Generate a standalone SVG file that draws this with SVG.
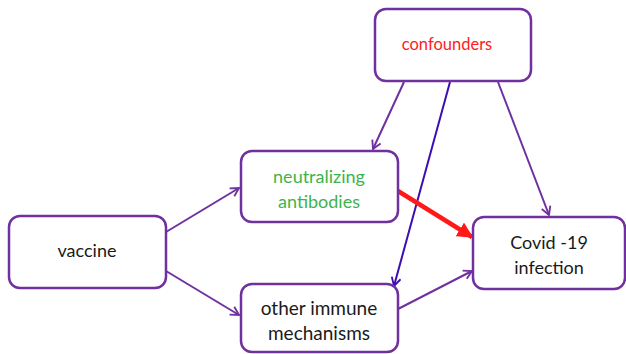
<svg xmlns="http://www.w3.org/2000/svg" width="626" height="354" viewBox="0 0 626 354">
<style>
.box{fill:#fff;stroke:#7030a0;stroke-width:2.5}
.t{font-family:Lato,"Open Sans",sans-serif;font-size:18px;text-anchor:middle;fill:#1a1a1a}
.c{fill:none;stroke:#7030a0;stroke-width:2}
</style>
<defs>
<marker id="ahp" viewBox="0 0 12 12" refX="10" refY="6" markerWidth="11" markerHeight="11" orient="auto" markerUnits="userSpaceOnUse">
<path d="M1,1 L10,6 L1,11" fill="none" stroke="#7030a0" stroke-width="2"/>
</marker>
<marker id="ahb" viewBox="0 0 12 12" refX="10" refY="6" markerWidth="11" markerHeight="11" orient="auto" markerUnits="userSpaceOnUse">
<path d="M1,1 L10,6 L1,11" fill="none" stroke="#3c0db0" stroke-width="2"/>
</marker>
<marker id="ahr" viewBox="0 0 10 10" refX="9" refY="5" markerWidth="16" markerHeight="16" orient="auto" markerUnits="userSpaceOnUse">
<path d="M0,0 L10,5 L0,10 Z" fill="#ff1a1a"/>
</marker>
</defs>
<g id="connectors">
<line class="c" x1="166" y1="232" x2="239" y2="188" marker-end="url(#ahp)"/>
<line class="c" x1="166" y1="271" x2="239" y2="315" marker-end="url(#ahp)"/>
<line class="c" x1="404" y1="82" x2="373" y2="149" marker-end="url(#ahp)"/>
<line x1="450" y1="82" x2="394" y2="286" stroke="#3c0db0" stroke-width="2" marker-end="url(#ahb)"/>
<line class="c" x1="498" y1="82" x2="549" y2="215" marker-end="url(#ahp)"/>
<line class="c" x1="398" y1="309" x2="472" y2="271" marker-end="url(#ahp)"/>
<line x1="398" y1="191" x2="472" y2="237" stroke="#ff1a1a" stroke-width="4.5" marker-end="url(#ahr)"/>
</g>
<g id="confounders">
<rect class="box" x="375" y="9" width="156" height="72" rx="11"/>
<text class="t" x="447" y="50" style="fill:#ff2020;font-size:16.5px">confounders</text>
</g>
<g id="neutralizing">
<rect class="box" x="241" y="151" width="157" height="71" rx="11"/>
<text class="t" x="319" y="183" style="fill:#3cb44b">neutralizing</text>
<text class="t" x="319" y="208" style="fill:#3cb44b">antibodies</text>
</g>
<g id="vaccine">
<rect class="box" x="9" y="216" width="157" height="72" rx="11"/>
<text class="t" x="87" y="257">vaccine</text>
</g>
<g id="other">
<rect class="box" x="241" y="284" width="157" height="68" rx="11"/>
<text class="t" x="319" y="315" style="font-size:19px">other immune</text>
<text class="t" x="319" y="340" style="font-size:19px">mechanisms</text>
</g>
<g id="covid">
<rect class="box" x="473" y="217" width="152" height="72" rx="11"/>
<text class="t" x="549" y="249">Covid -19</text>
<text class="t" x="549" y="274">infection</text>
</g>
</svg>
